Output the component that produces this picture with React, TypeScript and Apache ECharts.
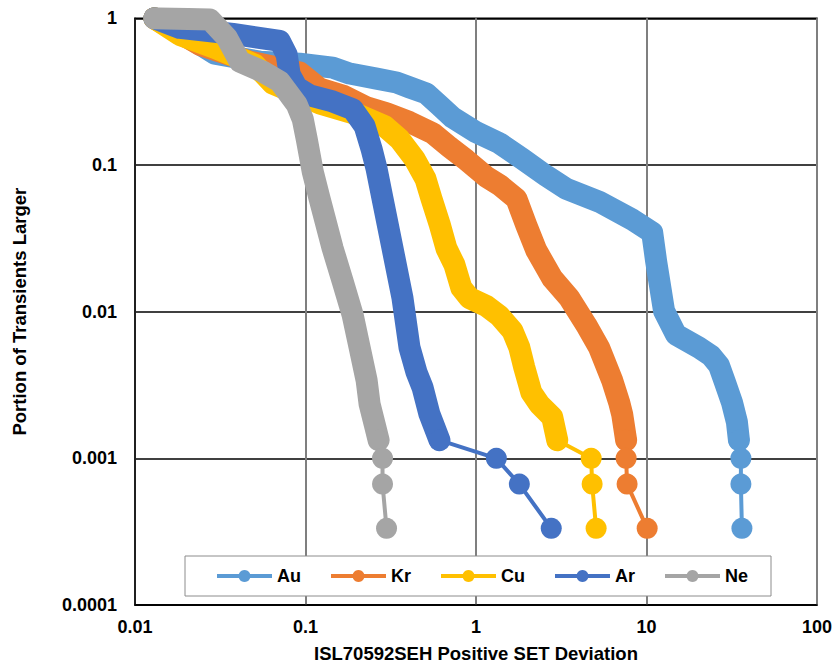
import React, { useEffect, useRef } from "react";
import * as echarts from "echarts";

// Categories / series names
const seriesNames = ["Au", "Kr", "Cu", "Ar", "Ne"];
const seriesColors = ["#5B9BD5", "#ED7D31", "#FFC000", "#4472C4", "#A5A5A5"];

// Tick labels
const xTickLabels = ["0.01", "0.1", "1", "10", "100"];
const yTickLabels = ["0.0001", "0.001", "0.01", "0.1", "1"];

// Dense (merged-marker) part of each curve: [deviation, portion]
const auBand: number[][] = [
  [0.013, 1.0], [0.0196, 0.771], [0.0294, 0.573], [0.0539, 0.506], [0.0925, 0.49],
  [0.1443, 0.461], [0.1816, 0.42], [0.2612, 0.388], [0.3421, 0.365], [0.4074, 0.338],
  [0.5124, 0.307], [0.6105, 0.255], [0.7274, 0.211], [1.005, 0.167], [1.37, 0.141],
  [1.87, 0.11], [2.581, 0.0843], [3.381, 0.0688], [5.272, 0.0562], [8.236, 0.0425],
  [10.8, 0.0347], [11.39, 0.0221], [12.68, 0.0101], [14.9, 0.00697], [20.33, 0.00569],
  [23.89, 0.00502], [26.61, 0.0043], [28.86, 0.0033], [31.71, 0.00241], [33.91, 0.00177],
  [34.85, 0.00133],
];
const auTail: number[][] = [[35.79, 0.001], [35.79, 0.000667], [36.28, 0.000333]];

const krBand: number[][] = [
  [0.013, 1.0], [0.024, 0.66], [0.0471, 0.506], [0.0925, 0.427], [0.121, 0.332],
  [0.165, 0.298], [0.2283, 0.247], [0.2988, 0.225], [0.4074, 0.196], [0.5556, 0.165],
  [0.6985, 0.1325], [0.8784, 0.108], [1.151, 0.083], [1.37, 0.0733], [1.725, 0.0589],
  [1.974, 0.0387], [2.258, 0.0262], [2.8, 0.0169], [3.52, 0.0124], [4.426, 0.00814],
  [5.272, 0.00569], [6.29, 0.0034], [6.913, 0.00241], [7.2, 0.002], [7.596, 0.00133],
];
const krTail: number[][] = [[7.596, 0.001], [7.695, 0.000667], [10.09, 0.000333]];

const cuBand: number[][] = [
  [0.013, 1.0], [0.0183, 0.771], [0.0294, 0.629], [0.0504, 0.483], [0.0643, 0.359],
  [0.121, 0.263], [0.2077, 0.218], [0.2909, 0.184], [0.3559, 0.15], [0.4358, 0.11],
  [0.5056, 0.0804], [0.548, 0.0589], [0.6105, 0.0399], [0.6708, 0.027], [0.747, 0.0209],
  [0.821, 0.0145], [0.9146, 0.0124], [1.151, 0.01094], [1.37, 0.00937], [1.634, 0.00742],
  [1.796, 0.00569], [1.92, 0.00416], [2.11, 0.00282], [2.351, 0.00234], [2.8, 0.00191],
  [2.996, 0.00133],
];
const cuTail: number[][] = [[4.738, 0.001], [4.799, 0.000667], [5.065, 0.000333]];

const arBand: number[][] = [
  [0.013, 1.0], [0.0183, 0.86], [0.0375, 0.783], [0.0706, 0.702], [0.0776, 0.564],
  [0.0808, 0.413], [0.0888, 0.338], [0.106, 0.298], [0.1443, 0.271], [0.189, 0.24],
  [0.2222, 0.184], [0.2443, 0.128], [0.2612, 0.094], [0.283, 0.0589], [0.324, 0.027],
  [0.3705, 0.0124], [0.4074, 0.00569], [0.4477, 0.00386], [0.4855, 0.00305], [0.5335, 0.002],
  [0.6105, 0.00133],
];
const arTail: number[][] = [[1.316, 0.001], [1.796, 0.000667], [2.763, 0.000333]];

const neBand: number[][] = [
  [0.013, 1.0], [0.0275, 0.98], [0.0346, 0.736], [0.0412, 0.506], [0.0561, 0.433],
  [0.0706, 0.371], [0.0888, 0.259], [0.0964, 0.205], [0.1017, 0.15], [0.1103, 0.0898],
  [0.121, 0.0589], [0.1443, 0.027], [0.165, 0.0162], [0.189, 0.00951], [0.2077, 0.00569],
  [0.2283, 0.0034], [0.2377, 0.00234], [0.2544, 0.00171], [0.2684, 0.00133],
];
const neTail: number[][] = [[0.283, 0.001], [0.283, 0.000667], [0.2988, 0.000333]];

const bands = [auBand, krBand, cuBand, arBand, neBand];
const tails = [auTail, krTail, cuTail, arTail, neTail];

const FONT = "'Liberation Sans', Arial, Helvetica, sans-serif";

export default function App() {
  const ref = useRef<HTMLDivElement>(null);

  useEffect(() => {
    if (!ref.current) return;
    const chart = echarts.init(ref.current, undefined, { renderer: "svg" });

    const series: any[] = [];
    seriesNames.forEach((name, i) => {
      const band = bands[i];
      const color = seriesColors[i];
      series.push({
        name,
        type: "line",
        data: [band[band.length - 1], ...tails[i]],
        symbol: "circle",
        symbolSize: 21,
        showSymbol: true,
        showAllSymbol: true,
        itemStyle: { color },
        lineStyle: { color, width: 4 },
        z: 2 + i,
        silent: true,
      });
      series.push({
        name,
        type: "line",
        data: band,
        showSymbol: false,
        symbol: "none",
        itemStyle: { color },
        lineStyle: { color, width: 22, cap: "round", join: "round" },
        z: 2 + i,
        silent: true,
      });
    });

    const labelFrom = (labels: string[], offset: number) => (v: number) => {
      const idx = Math.round(Math.log10(v)) + offset;
      return labels[idx] ?? "";
    };

    chart.setOption({
      animation: false,
      backgroundColor: "#ffffff",
      textStyle: { fontFamily: FONT },
      grid: {
        left: 135,
        right: 16.7,
        top: 18.3,
        bottom: 58.7,
        show: true,
        borderColor: "#000",
        borderWidth: 1.5,
        backgroundColor: "transparent",
      },
      legend: {
        data: seriesNames,
        left: 185,
        top: 556,
        orient: "horizontal",
        padding: [11, 23, 11, 30],
        itemGap: 28,
        itemWidth: 55,
        itemHeight: 15,
        backgroundColor: "#fff",
        borderColor: "#8c8c8c",
        borderWidth: 1,
        selectedMode: false,
        lineStyle: { width: 4 },
        textStyle: { fontFamily: FONT, fontWeight: "bold", fontSize: 18, color: "#000" },
      },
      xAxis: {
        type: "log",
        logBase: 10,
        min: 0.01,
        max: 100,
        name: "ISL70592SEH Positive SET Deviation",
        nameLocation: "middle",
        nameGap: 39,
        nameTextStyle: { fontFamily: FONT, fontWeight: "bold", fontSize: 18.5, color: "#000" },
        axisLine: { show: true, lineStyle: { color: "#000", width: 1.5 } },
        axisTick: { show: false },
        minorTick: { show: false },
        axisLabel: {
          margin: 13,
          fontFamily: FONT,
          fontWeight: "bold",
          fontSize: 18,
          color: "#000",
          formatter: labelFrom(xTickLabels, 2),
        },
        splitLine: { show: true, lineStyle: { color: "#7f7f7f", width: 2 } },
      },
      yAxis: {
        type: "log",
        logBase: 10,
        min: 0.0001,
        max: 1,
        name: "Portion of Transients Larger",
        nameLocation: "middle",
        nameGap: 106,
        nameTextStyle: { fontFamily: FONT, fontWeight: "bold", fontSize: 18.5, color: "#000" },
        axisLine: { show: true, lineStyle: { color: "#000", width: 1.5 } },
        axisTick: { show: false },
        minorTick: { show: false },
        axisLabel: {
          margin: 18,
          fontFamily: FONT,
          fontWeight: "bold",
          fontSize: 18,
          color: "#000",
          formatter: labelFrom(yTickLabels, 4),
        },
        splitLine: { show: true, lineStyle: { color: "#000", width: 1.5 } },
      },
      series,
    });

    return () => {
      chart.dispose();
    };
  }, []);

  return (
    <div
      ref={ref}
      style={{ position: "fixed", left: 0, top: 0, width: 835, height: 668, background: "#fff" }}
    />
  );
}
